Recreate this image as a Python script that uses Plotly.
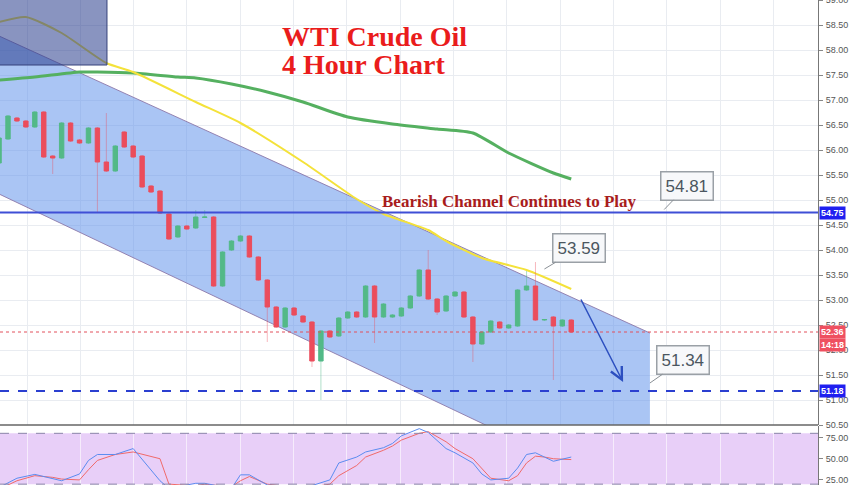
import plotly.graph_objects as go

# ---------------- data (4-hour bars, index = bar number) ----------------
bar_idx = list(range(65))
opens = [55.74, 56.22, 56.64, 56.58, 56.46, 56.76, 55.88, 55.84, 56.54, 56.20,
         56.14, 56.44, 55.76, 55.58, 56.36, 56.08, 55.88, 55.28, 55.18, 54.72,
         54.26, 54.48, 54.44, 54.65, 54.66, 53.28, 54.00, 54.18, 54.28, 53.86,
         53.40, 52.86, 52.46, 52.84, 52.68, 52.56, 51.78, 52.38, 52.28, 52.64,
         52.76, 52.66, 53.28, 52.66, 52.66, 52.68, 52.84, 53.08, 53.60, 53.02,
         52.78, 53.08, 53.16, 52.66, 52.12, 52.36, 52.56, 52.44, 52.48, 53.20,
         53.28, 52.60, 52.66, 52.48, 52.60]
closes = [56.24, 56.68, 56.58, 56.46, 56.76, 55.86, 55.84, 56.54, 56.18, 56.14,
          56.44, 55.76, 55.58, 56.08, 56.06, 55.86, 55.26, 55.16, 54.74, 54.22,
          54.48, 54.42, 54.66, 54.66, 53.28, 53.96, 54.18, 54.28, 53.86, 53.40,
          52.86, 52.46, 52.84, 52.70, 52.56, 51.78, 52.38, 52.26, 52.64, 52.76,
          52.66, 53.28, 52.66, 52.92, 52.70, 52.84, 53.08, 53.60, 53.02, 52.76,
          53.08, 53.16, 52.66, 52.12, 52.36, 52.58, 52.44, 52.50, 53.20, 53.28,
          52.60, 52.61, 52.48, 52.60, 52.36]
highs = [56.24, 56.70, 56.66, 56.60, 56.78, 56.78, 55.90, 56.56, 56.56, 56.22,
         56.46, 56.46, 56.74, 56.10, 56.38, 56.10, 55.90, 55.30, 55.20, 54.74,
         54.50, 54.50, 54.80, 54.80, 54.68, 53.98, 54.20, 54.30, 54.30, 53.88,
         53.42, 52.88, 52.86, 52.86, 52.70, 52.58, 52.40, 52.40, 52.66, 52.78,
         52.78, 53.30, 53.30, 52.94, 52.72, 52.86, 53.10, 53.62, 54.00, 53.04,
         53.10, 53.18, 53.18, 52.68, 52.38, 52.60, 52.58, 52.52, 53.22, 53.58,
         53.76, 52.62, 52.68, 52.62, 52.62]
lows = [55.74, 56.20, 56.56, 56.44, 56.44, 55.84, 55.52, 55.82, 56.16, 56.12,
        56.12, 54.76, 55.56, 55.56, 56.04, 55.84, 55.24, 55.14, 54.72, 54.20,
        54.24, 54.40, 54.42, 54.64, 53.26, 53.26, 53.98, 54.16, 53.84, 53.38,
        52.16, 52.44, 52.44, 52.68, 52.54, 51.66, 51.00, 52.24, 52.26, 52.62,
        52.64, 52.64, 52.14, 52.64, 52.64, 52.66, 52.82, 53.06, 53.00, 52.70,
        52.76, 53.06, 52.64, 51.76, 52.10, 52.34, 52.42, 52.42, 52.46, 53.18,
        52.58, 52.58, 51.40, 52.46, 52.34]

# moving averages
ma_fast_idx = [0, 3, 7, 12, 15, 22, 27, 34, 40, 43, 48, 50, 54, 59, 64]
ma_fast = [58.56, 58.66, 58.34, 57.74, 57.56, 56.96, 56.54, 55.76, 55.02, 54.72,
           54.40, 54.18, 53.84, 53.60, 53.22]
ma_slow_idx = [0, 4, 9, 11, 15, 20, 22, 26, 30, 34, 39, 44, 49, 53, 57, 62, 64]
ma_slow = [57.40, 57.46, 57.56, 57.56, 57.54, 57.46, 57.44, 57.32, 57.16, 56.96,
           56.66, 56.52, 56.42, 56.34, 55.94, 55.54, 55.42]

# stochastic oscillator
stoch_idx = [0, 2, 4, 6, 7, 9, 10, 11, 13, 15, 18, 19, 22, 23, 26, 27, 28, 30, 34,
             37, 38, 40, 41, 43, 44, 45, 47, 48, 50, 51, 53, 54, 55, 57, 58, 59, 60,
             61, 62, 64]
stoch_k = [16, 27, 31.5, 27, 24, 32, 48, 55, 55, 62, 24, 15, 21, 21, 15, 31, 31, 19,
           15, 25, 45, 52, 58, 63, 68, 77, 85.5, 81, 62, 57, 45, 32, 25, 27, 39, 55,
           57, 52, 47, 52]
stoch_d = [14, 24, 30, 28, 26, 25, 37, 48, 55, 58, 50, 20, 18, 20, 17, 24, 29, 20,
           15, 20, 30, 42, 52, 60, 65, 72, 80, 82, 70, 62, 50, 38, 27, 24, 30, 45,
           53, 52, 50, 49]

# drawn levels / annotations
resistance = 54.75
support = 51.18
last_price = 52.36
last_label = "14:18"
channel_idx = [0.0, 72.8]
channel_upper = [58.28, 52.34]
channel_lower = [55.12, 48.94]
callouts = [("54.81", 74.4, 54.81, 23, -24), ("53.59", 61.0, 53.62, 35, -21),
            ("51.34", 72.8, 51.34, 33, -23)]
arrow_from = (65.0, 53.04)
arrow_to = (69.8, 51.36)

# ---------------- figure ----------------
GREEN = "#53b987"
RED = "#eb4d5c"
fig = go.Figure()

# moving averages
fig.add_trace(go.Scatter(x=ma_slow_idx, y=ma_slow, mode="lines",
                         line=dict(color="#55b060", width=3, shape="spline", smoothing=0.6),
                         showlegend=False))
fig.add_trace(go.Scatter(x=ma_fast_idx, y=ma_fast, mode="lines",
                         line=dict(color="#f4e23a", width=2, shape="spline", smoothing=0.6),
                         showlegend=False))

# candle bodies
body_hi = [max(o, c) for o, c in zip(opens, closes)]
body_lo = [min(o, c) for o, c in zip(opens, closes)]

# wicks (faint), drawn only outside the bodies
for up in (True, False):
    wx, wy = [], []
    for i, o, c, h, l, bh, bl in zip(bar_idx, opens, closes, highs, lows, body_hi, body_lo):
        if (c >= o) == up:
            if h > bh:
                wx += [i, i, None]
                wy += [bh, h, None]
            if l < bl:
                wx += [i, i, None]
                wy += [l, bl, None]
    fig.add_trace(go.Scatter(x=wx, y=wy, mode="lines",
                             line=dict(color="rgba(83,185,135,0.45)" if up else "rgba(235,77,92,0.4)", width=1),
                             hoverinfo="skip", showlegend=False))

fig.add_trace(go.Candlestick(
    x=bar_idx, open=opens, close=closes, high=body_hi, low=body_lo,
    increasing=dict(fillcolor=GREEN, line=dict(color=GREEN, width=1)),
    decreasing=dict(fillcolor=RED, line=dict(color=RED, width=1)),
    whiskerwidth=0, showlegend=False))

# stochastic
fig.add_trace(go.Scatter(x=stoch_idx, y=stoch_d, mode="lines", xaxis="x2", yaxis="y2",
                         line=dict(color="#f06a6a", width=1), showlegend=False))
fig.add_trace(go.Scatter(x=stoch_idx, y=stoch_k, mode="lines", xaxis="x2", yaxis="y2",
                         line=dict(color="#5b8cf0", width=1), showlegend=False))

XR = [0.105, 91.6]
grid = "#e9ecf1"
tickfont = dict(family="Arial, Liberation Sans", size=9, color="#555")
fig.update_layout(
    width=852, height=485, margin=dict(l=0, r=34, t=0, b=0, autoexpand=False),
    paper_bgcolor="white", plot_bgcolor="white",
    xaxis=dict(domain=[0, 1], range=XR, anchor="y", showticklabels=False,
               showgrid=True, gridcolor=grid, tick0=3.125, dtick=5.965,
               zeroline=False, rangeslider=dict(visible=False), automargin=False),
    xaxis2=dict(domain=[0, 1], range=XR, anchor="y2", showticklabels=False,
                showgrid=True, gridcolor="rgba(255,255,255,0.6)", tick0=3.125, dtick=5.965,
                zeroline=False, matches="x", automargin=False),
    yaxis=dict(domain=[0.1237, 1], range=[50.5, 59.0], side="right",
               tick0=50.5, dtick=0.5, tickformat=".2f", showgrid=True, gridcolor=grid,
               ticks="outside", ticklen=4, tickcolor="#888", showline=True,
               linecolor="#777", linewidth=1, zeroline=False, automargin=False,
               ticklabelstandoff=1, ticklabeloverflow="allow", tickfont=tickfont),
    yaxis2=dict(domain=[0, 0.1216], range=[19, 88.6], side="right",
                tickvals=[25, 50, 75], tickformat=".2f", showgrid=False,
                ticks="outside", ticklen=4, tickcolor="#888", showline=True,
                linecolor="#777", linewidth=1, zeroline=False, automargin=False,
                ticklabelstandoff=1, ticklabeloverflow="allow", tickfont=tickfont),
)

ch_path = (f"M{channel_idx[0]},{channel_upper[0]} L{channel_idx[1]},{channel_upper[1]} "
           f"L{channel_idx[1]},{channel_lower[1]} L{channel_idx[0]},{channel_lower[0]} Z")
shapes = [
    # bearish channel
    dict(type="path", xref="x", yref="y", path=ch_path, fillcolor="rgba(100,150,235,0.55)",
         line=dict(width=0), layer="between"),
    dict(type="line", xref="x", yref="y", x0=channel_idx[0], x1=channel_idx[1],
         y0=channel_upper[0], y1=channel_upper[1],
         line=dict(color="rgba(140,120,170,0.9)", width=1), layer="between"),
    dict(type="line", xref="x", yref="y", x0=channel_idx[0], x1=channel_idx[1],
         y0=channel_lower[0], y1=channel_lower[1],
         line=dict(color="rgba(140,120,170,0.9)", width=1), layer="between"),
    # stochastic band
    dict(type="rect", xref="x2 domain", yref="y2", x0=0, x1=1, y0=20, y1=80,
         fillcolor="#e8cff8", line=dict(width=0), layer="below"),
    dict(type="line", xref="x2 domain", yref="y2", x0=0, x1=1, y0=80, y1=80,
         line=dict(color="#8a84a8", width=1, dash="dash")),
    dict(type="line", xref="x2 domain", yref="y2", x0=0, x1=1, y0=20, y1=20,
         line=dict(color="#8a84a8", width=1, dash="dash")),
    # levels
    dict(type="line", xref="x domain", yref="y", x0=0, x1=1, y0=resistance, y1=resistance,
         line=dict(color="#3f4fd6", width=2)),
    dict(type="line", xref="x domain", yref="y", x0=0, x1=1, y0=support, y1=support,
         line=dict(color="#2b3fd0", width=2, dash="dash")),
    dict(type="line", xref="x domain", yref="y", x0=0, x1=1, y0=last_price, y1=last_price,
         line=dict(color="#e2505c", width=1, dash="dot")),
    # panel separator
    dict(type="line", xref="paper", yref="paper", x0=0, x1=1, y0=0.1237, y1=0.1237,
         line=dict(color="#666", width=1.5)),
    # dark box top-left
    dict(type="rect", xref="x", yref="y", x0=0.0, x1=12.07, y0=57.70, y1=59.2,
         fillcolor="rgba(40,60,140,0.55)", line=dict(color="#34407a", width=1), layer="above"),
]
fig.update_layout(shapes=shapes)

ann = []
tagfont = dict(family="Arial, Liberation Sans", size=9, color="white")
# axis value tags
for txt, yv, col in [(f"{resistance:.2f}", resistance, "#1f1ff0"),
                     (f"{support:.2f}", support, "#1f1ff0"),
                     (f"{last_price:.2f}", last_price, "#ef5060")]:
    ann.append(dict(xref="paper", yref="y", x=1.0, y=yv, xanchor="left", yanchor="middle",
                    xshift=1, text=f"<b>{txt}</b>", showarrow=False, bgcolor=col, borderpad=1,
                    font=tagfont))
ann.append(dict(xref="paper", yref="y", x=1.0, y=last_price, xanchor="left", yanchor="top",
                xshift=1, yshift=-6, text=f"<b>{last_label}</b>", showarrow=False,
                bgcolor="#ef5060", borderpad=1, font=tagfont))
# callouts
for txt, xi, yv, axo, ayo in callouts:
    ann.append(dict(x=xi, y=yv, xref="x", yref="y", text=txt, showarrow=True, arrowhead=0,
                    arrowcolor="#8a9096", arrowwidth=1, ax=axo, ay=ayo,
                    bgcolor="#f7f8fa", bordercolor="#9aa0a6", borderwidth=1.5, borderpad=4,
                    font=dict(family="Arial, Liberation Sans", size=17, color="#4b5660")))
# blue projection arrow
ann.append(dict(x=arrow_to[0], y=arrow_to[1], ax=arrow_from[0], ay=arrow_from[1],
                xref="x", yref="y", axref="x", ayref="y", text="", showarrow=True,
                arrowhead=5, arrowsize=1.6, arrowwidth=1.5, arrowcolor="#2c4fc0"))
# titles
ann.append(dict(xref="paper", yref="paper", x=280/818, y=1 - 37/485, xanchor="left",
                yanchor="middle", text="<b>WTI Crude Oil</b>", showarrow=False,
                font=dict(family="Liberation Serif", size=28, color="#ea1c1c")))
ann.append(dict(xref="paper", yref="paper", x=280/818, y=1 - 65/485, xanchor="left",
                yanchor="middle", text="<b>4 Hour Chart</b>", showarrow=False,
                font=dict(family="Liberation Serif", size=28, color="#ea1c1c")))
ann.append(dict(xref="paper", yref="paper", x=509/818, y=1 - 201/485, xanchor="center",
                yanchor="middle", text="<b>Bearish Channel Continues to Play</b>", showarrow=False,
                font=dict(family="Liberation Serif", size=17, color="#a81c1c")))
fig.update_layout(annotations=ann)

fig.write_html("out.html", config={"displayModeBar": False},
               post_script="document.body.style.margin='0';")
